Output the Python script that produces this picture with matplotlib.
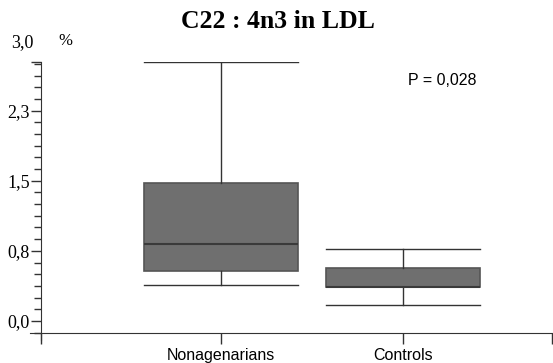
import matplotlib
matplotlib.use('Agg')
import matplotlib.pyplot as plt
import numpy as np

# data
groups = ['Nonagenarians', 'Controls']
whisker_lo = [0.38, 0.17]
q1 = [0.53, 0.36]
median = [0.82, 0.36]
q3 = [1.48, 0.57]
whisker_hi = [2.77, 0.77]
p_text = 'P = 0,028'
ytick_vals = [0.0, 0.75, 1.5, 2.25]
ytick_labels = ['0,0', '0,8', '1,5', '2,3']
ytop = 2.77

fig = plt.figure(figsize=(5.53, 3.63), dpi=100)
ax = fig.add_axes([30 / 553, 1 - 340 / 363, 522 / 553, 278 / 363])

stats = []
for i, g in enumerate(groups):
    stats.append(dict(label=g, whislo=whisker_lo[i], q1=q1[i], med=median[i],
                      q3=q3[i], whishi=whisker_hi[i], fliers=[]))

pos = [1, 2]
ax.bxp(stats, positions=pos, widths=0.846, capwidths=0.846, patch_artist=True,
       showfliers=False,
       boxprops=dict(facecolor='#6f6f6f', edgecolor='#555555', linewidth=1.2),
       medianprops=dict(color='#3a3a3a', linewidth=1.5),
       whiskerprops=dict(color='#333333', linewidth=1),
       capprops=dict(color='#333333', linewidth=1))

ax.set_xlim(-0.049, 2.819)
ax.set_ylim(-0.204, ytop)

for s in ['top', 'right']:
    ax.spines[s].set_visible(False)
ax.spines['left'].set_position(('data', 0.01))
ax.spines['bottom'].set_position(('data', -0.13))
ax.spines['left'].set_color('#333333')
ax.spines['bottom'].set_color('#333333')

ax.set_yticks(ytick_vals + [ytop])
ax.set_yticklabels(ytick_labels + [''], fontfamily='Liberation Serif', fontsize=13)
ax.set_yticks(np.arange(-0.125, ytop, 0.125), minor=True)
ax.tick_params(axis='y', which='major', direction='out', length=7, width=1, color='#333333', pad=1)
ax.tick_params(axis='y', which='minor', direction='out', length=5, width=1, color='#333333')

ax.set_xticks([0.01] + pos + [2.819])
ax.set_xticklabels([''] + groups + [''], fontfamily='Liberation Sans', fontsize=11.5)
ax.tick_params(axis='x', which='major', direction='out', length=8, width=1, color='#333333', pad=3)

# top of the y axis is labelled "3,0" above the tick
ax.annotate('3,0', xy=(0.01, ytop), xycoords='data', xytext=(-5, 14),
            textcoords='offset points', ha='right', va='center',
            fontfamily='Liberation Serif', fontsize=13, annotation_clip=False)

fig.text(65 / 553, 1 - 41 / 363, '%', fontfamily='Liberation Serif', fontsize=12,
         ha='center', va='center')
fig.text(0.503, 1 - 22 / 363, 'C22 : 4n3 in LDL', fontfamily='Liberation Serif',
         fontweight='bold', fontsize=18.5, ha='center', va='center')
ax.text(2.03, 2.57, p_text, fontfamily='Liberation Sans', fontsize=11.5,
        ha='left', va='center')

fig.savefig('out.png', dpi=100)
